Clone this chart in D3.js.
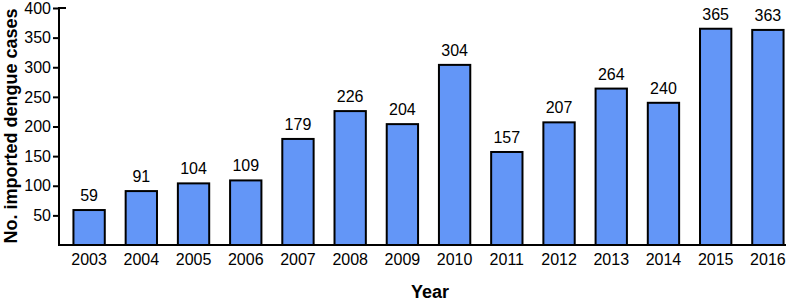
<!DOCTYPE html>
<html>
<head>
<meta charset="utf-8">
<script src="https://cdn.jsdelivr.net/npm/d3@7"></script>
<style>
  body { margin: 0; background: #fff; }
  text { font-family: "Liberation Sans", Arial, sans-serif; }
</style>
</head>
<body>
<div id="chart"></div>
<script>
const width = 791;
const height = 302;

const years = ["2003", "2004", "2005", "2006", "2007", "2008", "2009",
  "2010", "2011", "2012", "2013", "2014", "2015", "2016"];
const cases = [59, 91, 104, 109, 179, 226, 204, 304, 157, 207, 264, 240, 365, 363];
const yTicks = [50, 100, 150, 200, 250, 300, 350, 400];

const axisX = 59;
const axisY = 245;

const svg = d3
  .select("#chart")
  .append("svg")
  .attr("width", width)
  .attr("height", height);

const x = d3.scaleBand().domain(years).range([63, 794]).paddingInner(0.4).paddingOuter(0.2);
const y = d3.scaleLinear().domain([0, 400]).range([axisY, 8]);

// bars
svg
  .append("g")
  .selectAll("rect")
  .data(cases)
  .enter()
  .append("rect")
  .attr("x", (d, i) => x(years[i]))
  .attr("y", (d) => y(d))
  .attr("width", x.bandwidth())
  .attr("height", (d) => axisY - y(d))
  .attr("fill", "#6396f7")
  .attr("stroke", "#000")
  .attr("stroke-width", 2);

// value labels
svg
  .append("g")
  .selectAll("text")
  .data(cases)
  .enter()
  .append("text")
  .attr("x", (d, i) => x(years[i]) + x.bandwidth() / 2)
  .attr("y", (d) => y(d) - 9)
  .attr("text-anchor", "middle")
  .attr("font-size", 16)
  .text((d) => d);

// y axis
const yAxis = svg
  .append("g")
  .attr("transform", `translate(${axisX},0)`)
  .call(d3.axisLeft(y).tickValues(yTicks).tickSize(6).tickSizeOuter(0));
yAxis.select(".domain").remove();
yAxis.selectAll("line").attr("stroke", "#000").attr("stroke-width", 2);
yAxis.selectAll("text").attr("font-size", 16).attr("fill", "#000").attr("x", -8);

// stub at top
svg.append("line")
  .attr("x1", axisX - 1).attr("x2", axisX + 7)
  .attr("y1", y(400)).attr("y2", y(400))
  .attr("stroke", "#000").attr("stroke-width", 2);

// axis lines
svg.append("line")
  .attr("x1", axisX).attr("x2", axisX)
  .attr("y1", y(400) - 1).attr("y2", axisY + 1)
  .attr("stroke", "#000").attr("stroke-width", 2);
svg.append("line")
  .attr("x1", axisX).attr("x2", 786)
  .attr("y1", axisY).attr("y2", axisY)
  .attr("stroke", "#000").attr("stroke-width", 2);

// x tick labels
svg
  .append("g")
  .selectAll("text")
  .data(years)
  .enter()
  .append("text")
  .attr("x", (d) => x(d) + x.bandwidth() / 2)
  .attr("y", 265)
  .attr("text-anchor", "middle")
  .attr("font-size", 16)
  .text((d) => d);

// axis titles
svg.append("text")
  .attr("x", 430)
  .attr("y", 298)
  .attr("text-anchor", "middle")
  .attr("font-size", 18)
  .attr("font-weight", "bold")
  .text("Year");

svg.append("text")
  .attr("transform", "translate(17,126) rotate(-90)")
  .attr("text-anchor", "middle")
  .attr("font-size", 18)
  .attr("font-weight", "bold")
  .text("No. imported dengue cases");
</script>
</body>
</html>
